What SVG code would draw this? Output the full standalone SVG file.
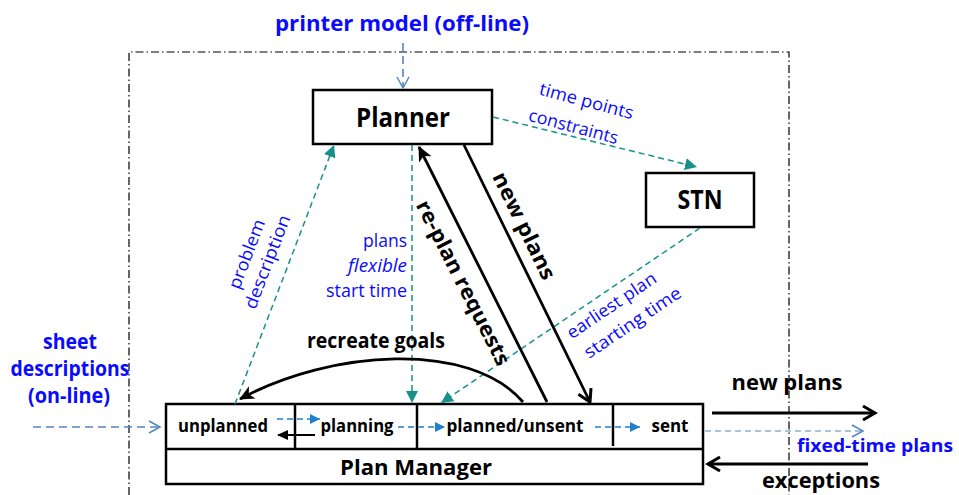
<svg xmlns="http://www.w3.org/2000/svg" width="959" height="495" viewBox="0 0 959 495">
  <style>
    .box { fill: #ffffff; stroke: #000000; stroke-width: 2.5; }
    .frame { fill: none; stroke: #000000; stroke-width: 1.2; stroke-dasharray: 8 3 1.5 3; }
    .bold { font-family: "Open Sans", "Liberation Sans", sans-serif; font-weight: bold; fill: #000000; }
    .blueb { font-family: "Open Sans", "Liberation Sans", sans-serif; font-weight: bold; fill: #0a0aff; }
    .blue { font-family: "Open Sans", "Liberation Sans", sans-serif; fill: #0a0aff; font-size: 17.5px; }
    .teal { fill: none; stroke: #16918b; stroke-width: 1.5; stroke-dasharray: 6 4; }
    .steel { fill: none; stroke: #5585c0; stroke-width: 1.6; stroke-dasharray: 8 5; }
    .steelthin { fill: none; stroke: #5585c0; stroke-width: 1; stroke-dasharray: 6 4; }
    .state { fill: none; stroke: #1f7fd0; stroke-width: 1.5; stroke-dasharray: 6 4; }
    .solid { fill: none; stroke: #000000; stroke-width: 2.8; }
  </style>
  <defs>
    <marker id="tealHead" markerUnits="userSpaceOnUse" markerWidth="14" markerHeight="12" refX="12" refY="6" orient="auto">
      <path d="M0,0 L12,6 L0,12 Z" fill="#16918b"/>
    </marker>
    <marker id="stateHead" markerUnits="userSpaceOnUse" markerWidth="12" markerHeight="10" refX="10" refY="5" orient="auto">
      <path d="M0,0 L10,5 L0,10 Z" fill="#1f7fd0"/>
    </marker>
    <marker id="openHead" markerUnits="userSpaceOnUse" markerWidth="14" markerHeight="14" refX="12" refY="7" orient="auto">
      <path d="M1,1 L12,7 L1,13" fill="none" stroke="#5585c0" stroke-width="1.5"/>
    </marker>
    <marker id="blackHead" markerUnits="userSpaceOnUse" markerWidth="16" markerHeight="16" refX="14" refY="8" orient="auto">
      <path d="M0,1 L15,8 L0,15 L4,8 Z" fill="#000000"/>
    </marker>
    <marker id="blackOpen" markerUnits="userSpaceOnUse" markerWidth="18" markerHeight="18" refX="15" refY="9" orient="auto">
      <path d="M3,2 L15,9 L3,16" fill="none" stroke="#000000" stroke-width="3"/>
    </marker>
    <marker id="smallBlack" markerUnits="userSpaceOnUse" markerWidth="12" markerHeight="10" refX="10" refY="5" orient="auto">
      <path d="M0,0 L11,5 L0,10 Z" fill="#000000"/>
    </marker>
  </defs>

  <!-- system boundary -->
  <path class="frame" d="M129,495 L129,52 L789,52 L789,495"/>

  <!-- external labels -->
  <text class="blueb" x="402" y="31" font-size="22" text-anchor="middle" textLength="254" lengthAdjust="spacingAndGlyphs">printer model (off-line)</text>
  <g class="blueb" font-size="21" text-anchor="middle">
    <text x="70" y="349" textLength="54" lengthAdjust="spacingAndGlyphs">sheet</text>
    <text x="70" y="376" textLength="119" lengthAdjust="spacingAndGlyphs">descriptions</text>
    <text x="69" y="403" textLength="82" lengthAdjust="spacingAndGlyphs">(on-line)</text>
  </g>

  <!-- Planner -->
  <g id="planner">
    <rect class="box" x="313" y="90" width="179" height="54"/>
    <text class="bold" x="403" y="127" font-size="26" text-anchor="middle" textLength="94" lengthAdjust="spacingAndGlyphs">Planner</text>
  </g>

  <!-- STN -->
  <g id="stn">
    <rect class="box" x="646" y="173" width="108" height="54"/>
    <text class="bold" x="700" y="209" font-size="26" text-anchor="middle" textLength="45" lengthAdjust="spacingAndGlyphs">STN</text>
  </g>

  <!-- Plan Manager with state lanes -->
  <g id="plan-manager">
    <rect class="box" x="166" y="404" width="537" height="80"/>
    <line x1="166" y1="449" x2="703" y2="449" stroke="#000" stroke-width="2.5"/>
    <line x1="295" y1="404" x2="295" y2="449" stroke="#000" stroke-width="2.5"/>
    <line x1="417" y1="404" x2="417" y2="449" stroke="#000" stroke-width="2.5"/>
    <line x1="613" y1="404" x2="613" y2="446" stroke="#000" stroke-width="2.5"/>
    <g class="bold" font-size="18.5" text-anchor="middle">
      <text x="223" y="432" textLength="90" lengthAdjust="spacingAndGlyphs">unplanned</text>
      <text x="357" y="432" textLength="73" lengthAdjust="spacingAndGlyphs">planning</text>
      <text x="515" y="432" textLength="137" lengthAdjust="spacingAndGlyphs">planned/unsent</text>
      <text x="670" y="432" textLength="37" lengthAdjust="spacingAndGlyphs">sent</text>
    </g>
    <text class="bold" x="416" y="475" font-size="22" text-anchor="middle" textLength="152" lengthAdjust="spacingAndGlyphs">Plan Manager</text>
  </g>

  <!-- connectors -->
  <g id="connectors">
    <!-- external inputs -->
    <line class="steel" x1="403" y1="43" x2="403" y2="88" marker-end="url(#openHead)"/>
    <line class="steel" x1="33" y1="427" x2="160" y2="427" marker-end="url(#openHead)"/>

    <!-- Planner to STN -->
    <line class="teal" x1="493" y1="117" x2="697" y2="167" marker-end="url(#tealHead)"/>
    <!-- problem description -->
    <line class="teal" x1="235" y1="404" x2="334" y2="145" marker-end="url(#tealHead)"/>
    <!-- plans with flexible start time -->
    <line class="teal" x1="412" y1="145" x2="412" y2="403" marker-end="url(#tealHead)"/>
    <!-- earliest plan starting time -->
    <line class="teal" x1="700" y1="228" x2="441" y2="403" marker-end="url(#tealHead)"/>

    <!-- re-plan requests / new plans -->
    <line class="solid" x1="547" y1="402" x2="419" y2="147" marker-end="url(#blackHead)"/>
    <line class="solid" x1="464" y1="145" x2="590" y2="402" marker-end="url(#blackOpen)"/>

    <!-- recreate goals -->
    <path class="solid" d="M523,402 C470,340 330,350 240,399" marker-end="url(#blackHead)"/>

    <!-- state transitions -->
    <line class="state" x1="277" y1="419" x2="320" y2="419" marker-end="url(#stateHead)"/>
    <line x1="315" y1="435" x2="278" y2="435" stroke="#000" stroke-width="2.2" marker-end="url(#smallBlack)"/>
    <line class="state" x1="398" y1="427" x2="445" y2="427" marker-end="url(#stateHead)"/>
    <line class="state" x1="595" y1="427" x2="640" y2="427" marker-end="url(#stateHead)"/>

    <!-- outputs and exceptions -->
    <line class="solid" x1="712" y1="413" x2="875" y2="413" marker-end="url(#blackOpen)"/>
    <line class="steelthin" x1="705" y1="431" x2="863" y2="431" marker-end="url(#openHead)"/>
    <line class="solid" x1="868" y1="464" x2="708" y2="464" marker-end="url(#blackOpen)"/>
  </g>

  <!-- connector labels -->
  <g class="blue">
    <g transform="translate(581,114) rotate(15)" text-anchor="middle">
      <text x="2" y="-8" textLength="97" lengthAdjust="spacingAndGlyphs">time points</text>
      <text x="-4" y="20" textLength="92" lengthAdjust="spacingAndGlyphs">constraints</text>
    </g>
    <g transform="translate(257,258) rotate(-69)" text-anchor="middle">
      <text x="0" y="-5" textLength="73" lengthAdjust="spacingAndGlyphs">problem</text>
      <text x="0" y="17" textLength="99" lengthAdjust="spacingAndGlyphs">description</text>
    </g>
    <g text-anchor="end">
      <text x="407" y="247" textLength="44" lengthAdjust="spacingAndGlyphs">plans</text>
      <text x="407" y="272" font-style="italic" textLength="59" lengthAdjust="spacingAndGlyphs">flexible</text>
      <text x="407" y="297" textLength="81" lengthAdjust="spacingAndGlyphs">start time</text>
    </g>
    <g transform="translate(622,314) rotate(-34)" text-anchor="middle">
      <text x="-4" y="-7" textLength="104" lengthAdjust="spacingAndGlyphs">earliest plan</text>
      <text x="4" y="19" textLength="113" lengthAdjust="spacingAndGlyphs">starting time</text>
    </g>
  </g>
  <g class="bold" font-size="21" text-anchor="middle">
    <text transform="translate(463,283) rotate(63)" y="7" textLength="182" lengthAdjust="spacingAndGlyphs">re-plan requests</text>
    <text transform="translate(524,226) rotate(64)" y="7" textLength="117" lengthAdjust="spacingAndGlyphs">new plans</text>
    <text x="376" y="348" textLength="138" lengthAdjust="spacingAndGlyphs">recreate goals</text>
    <text x="787" y="390" textLength="111" lengthAdjust="spacingAndGlyphs">new plans</text>
    <text x="821" y="488" textLength="118" lengthAdjust="spacingAndGlyphs">exceptions</text>
  </g>
  <text class="blueb" x="797" y="452" font-size="18.5" textLength="156" lengthAdjust="spacingAndGlyphs">fixed-time plans</text>
</svg>
